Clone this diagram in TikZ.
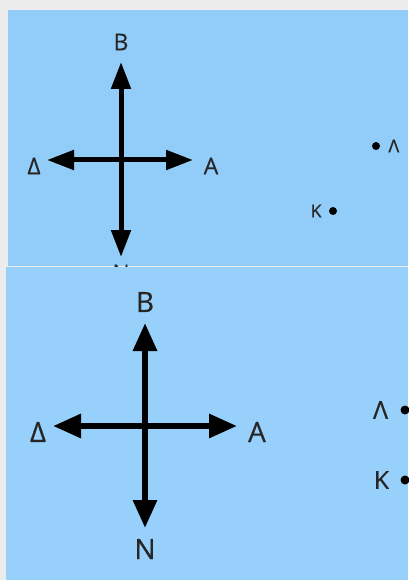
\documentclass[tikz,border=0pt]{standalone}
\usepackage{fontspec}
\setmainfont{Open Sans}[FakeBold=0.4]
\usetikzlibrary{arrows.meta,positioning}
\definecolor{paper}{HTML}{ECECEC}
\definecolor{skyA}{HTML}{92CCF8}
\definecolor{skyB}{HTML}{97D1FB}

\begin{document}
\begin{tikzpicture}[x=1pt,y=-1pt,
    arr/.style={line width=5pt,-{Triangle[length=27pt,width=19pt]}},
    arr2/.style={line width=6pt,-{Triangle[length=28pt,width=23pt]}},
    big/.style={inner sep=0pt,text=black!85,font=\fontsize{23}{26}\selectfont},
    big2/.style={inner sep=0pt,text=black!85,font=\fontsize{28}{31}\selectfont},
    small/.style={inner sep=0pt,text=black!85,font=\fontsize{18}{21}\selectfont},
    small2/.style={inner sep=0pt,text=black!85,font=\fontsize{25}{28}\selectfont},
    dot/.style={circle,fill=black,inner sep=0pt,minimum size=8pt},
    dot2/.style={circle,fill=black,inner sep=0pt,minimum size=9pt}]

 \useasboundingbox (0,0) rectangle (408,580);
 \fill[paper] (0,0) rectangle (408,580);

 % upper panel
 \fill[skyA] (8,10) rectangle (408,266);
 \coordinate (o1) at (121,160);
 \coordinate (n1) at (121,62);
 \coordinate (s1) at (121,257);
 \coordinate (w1) at (47,160);
 \coordinate (e1) at (193,160);
 \draw[arr] (o1) -- (n1);
 \draw[arr] (o1) -- (s1);
 \draw[arr] (o1) -- (w1);
 \draw[arr] (o1) -- (e1);
 \node[big] (lb1) at (121,42) {B};
 \node[big] (ln1) at (121,273) {N};
 \node[big] (ld1) at (34,166) {Δ};
 \node[big] (la1) at (211,166) {A};
 \node[dot] (pl1) at (376,146) {};
 \node[small,right=8pt of pl1] (ll1) {Λ};
 \node[dot] (pk1) at (333,211) {};
 \node[small,left=7pt of pk1] (lk1) {Κ};

 % lower panel
 \fill[skyB] (6,267) rectangle (408,580);
 \coordinate (o2) at (145,426);
 \coordinate (n2) at (145,323);
 \coordinate (s2) at (145,528);
 \coordinate (w2) at (53,426);
 \coordinate (e2) at (237,426);
 \draw[arr2] (o2) -- (n2);
 \draw[arr2] (o2) -- (s2);
 \draw[arr2] (o2) -- (w2);
 \draw[arr2] (o2) -- (e2);
 \node[big2] (lb2) at (145,302) {B};
 \node[big2] (ln2) at (145,549) {N};
 \node[big2] (ld2) at (38,432) {Δ};
 \node[big2] (la2) at (257,432) {A};
 \node[dot2] (pl2) at (405,410) {};
 \node[small2,left=12pt of pl2] (ll2) {Λ};
 \node[dot2] (pk2) at (405,480) {};
 \node[small2,left=11pt of pk2] (lk2) {Κ};
\end{tikzpicture}
\end{document}
